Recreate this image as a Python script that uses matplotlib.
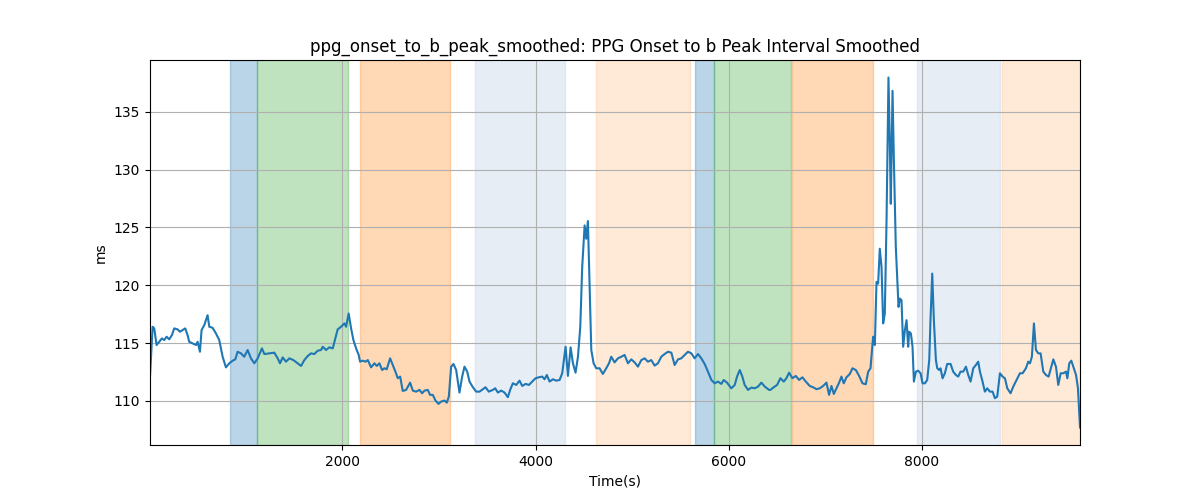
import matplotlib
matplotlib.use("Agg")
import matplotlib.pyplot as plt

# values
time_s = [8, 35, 52, 76, 104, 131, 155, 180, 207, 235, 259, 294, 318, 345, 373, 397, 414, 449, 484, 501,
          525, 542, 570, 604, 622, 656, 691, 725, 760, 794, 829, 864, 891, 915, 950, 984, 1019, 1053, 1088, 1123,
          1167, 1192, 1243, 1295, 1330, 1354, 1382, 1416, 1451, 1492, 1537, 1572, 1606, 1641, 1675, 1710, 1744, 1779, 1796, 1831,
          1865, 1900, 1927, 1951, 1986, 2021, 2038, 2065, 2090, 2114, 2142, 2169, 2183, 2211, 2238, 2263, 2297, 2332, 2356, 2383,
          2411, 2435, 2459, 2494, 2522, 2549, 2573, 2598, 2625, 2660, 2701, 2729, 2763, 2798, 2826, 2850, 2884, 2908, 2936, 2964,
          2995, 3022, 3057, 3081, 3102, 3126, 3150, 3178, 3212, 3240, 3264, 3292, 3316, 3351, 3385, 3420, 3454, 3482, 3516, 3558,
          3582, 3610, 3644, 3679, 3713, 3737, 3765, 3800, 3834, 3862, 3896, 3931, 3965, 4000, 4034, 4069, 4093, 4117, 4145, 4180,
          4214, 4249, 4276, 4311, 4335, 4363, 4387, 4414, 4439, 4463, 4483, 4508, 4525, 4542, 4559, 4577, 4601, 4628, 4663, 4697,
          4732, 4760, 4784, 4818, 4853, 4888, 4922, 4957, 4991, 5026, 5060, 5095, 5129, 5164, 5198, 5233, 5267, 5302, 5336, 5371,
          5406, 5440, 5475, 5509, 5544, 5578, 5613, 5647, 5682, 5716, 5751, 5785, 5820, 5855, 5889, 5924, 5948, 5982, 6027, 6062,
          6086, 6114, 6141, 6165, 6200, 6234, 6269, 6304, 6338, 6373, 6418, 6431, 6466, 6501, 6535, 6570, 6597, 6625, 6659, 6694,
          6729, 6763, 6798, 6839, 6874, 6908, 6943, 6977, 7012, 7039, 7064, 7088, 7115, 7143, 7167, 7191, 7219, 7254, 7281, 7316,
          7350, 7385, 7419, 7444, 7468, 7495, 7513, 7530, 7547, 7564, 7582, 7599, 7616, 7634, 7654, 7668, 7678, 7696, 7710, 7730,
          7744, 7758, 7772, 7789, 7806, 7824, 7841, 7858, 7868, 7886, 7903, 7917, 7938, 7962, 7986, 8007, 8031, 8055, 8076, 8089,
          8107, 8124, 8145, 8159, 8179, 8193, 8214, 8238, 8262, 8297, 8324, 8352, 8376, 8400, 8428, 8456, 8480, 8504, 8532, 8559,
          8583, 8601, 8628, 8652, 8677, 8704, 8732, 8756, 8780, 8808, 8836, 8860, 8884, 8918, 8946, 8981, 9015, 9043, 9077, 9101,
          9119, 9139, 9160, 9181, 9205, 9229, 9257, 9285, 9312, 9340, 9361, 9388, 9412, 9437, 9464, 9492, 9506, 9526, 9547, 9568,
          9596, 9616, 9637]

onset_b_ms = [112.10, 116.41, 116.27, 114.83, 115.11, 115.40, 115.26, 115.55, 115.32, 115.69, 116.27, 116.18, 115.98, 116.12, 116.27, 115.69, 115.11, 114.97, 114.83, 115.11,
              114.25, 116.12, 116.55, 117.41, 116.41, 116.32, 115.83, 115.26, 113.82, 112.90, 113.25, 113.48, 113.59, 114.25, 114.11, 113.82, 114.40, 113.68, 113.25, 113.68,
              114.54, 114.05, 114.11, 114.17, 113.68, 113.25, 113.76, 113.39, 113.68, 113.53, 113.25, 113.02, 113.53, 113.88, 114.11, 114.05, 114.34, 114.40, 114.68, 114.40,
              114.63, 114.54, 115.40, 116.18, 116.41, 116.70, 116.41, 117.56, 116.27, 115.26, 114.54, 113.97, 113.39, 113.48, 113.39, 113.53, 112.90, 113.25, 113.02, 113.25,
              112.67, 112.82, 112.73, 113.68, 113.10, 112.53, 111.96, 112.10, 110.86, 110.95, 111.58, 110.89, 110.80, 110.95, 110.66, 110.89, 110.95, 110.52, 110.52, 110.03,
              109.74, 109.94, 110.03, 109.85, 110.37, 112.96, 113.19, 112.67, 110.72, 112.10, 112.96, 112.53, 111.67, 111.18, 110.80, 110.80, 111.01, 111.18, 110.80, 110.95,
              111.09, 110.72, 110.89, 110.72, 110.32, 110.95, 111.52, 111.38, 111.75, 111.29, 111.47, 111.38, 111.67, 111.96, 112.04, 112.10, 111.87, 112.24, 111.67, 111.87,
              111.75, 111.81, 112.39, 114.68, 112.16, 114.63, 113.25, 112.44, 113.82, 116.41, 121.58, 125.17, 124.02, 125.55, 120.14, 114.40, 113.25, 112.82, 112.82, 112.33,
              112.82, 113.25, 113.82, 113.33, 113.68, 113.82, 113.97, 113.25, 113.59, 113.33, 112.96, 113.53, 113.68, 113.39, 113.53, 113.05, 113.25, 113.82, 114.05, 114.25,
              114.17, 113.10, 113.59, 113.68, 113.97, 114.25, 114.11, 113.68, 114.05, 113.68, 113.19, 112.53, 111.81, 111.52, 111.67, 111.47, 111.81, 111.58, 111.09, 111.38,
              112.10, 112.67, 112.10, 111.38, 110.95, 111.15, 111.09, 111.24, 111.58, 111.24, 110.95, 110.95, 111.18, 111.38, 111.96, 111.67, 111.96, 112.44, 111.96, 112.16,
              111.81, 112.04, 111.67, 111.29, 111.18, 111.01, 111.09, 111.29, 111.58, 110.52, 111.29, 110.60, 111.09, 111.58, 112.10, 111.52, 112.04, 112.33, 112.82, 112.67,
              112.16, 111.52, 111.44, 112.53, 112.82, 115.55, 114.83, 120.29, 120.14, 123.16, 121.58, 116.70, 117.56, 125.60, 137.96, 132.21, 127.04, 136.81, 130.78, 123.30,
              120.72, 118.13, 118.85, 118.71, 114.68, 116.12, 116.98, 114.68, 115.98, 115.83, 114.68, 111.67, 112.53, 112.61, 112.39, 111.52, 111.52, 111.81, 113.53, 116.98,
              121.01, 116.98, 113.53, 112.82, 112.67, 112.82, 111.95, 112.39, 113.19, 113.19, 112.53, 112.24, 112.10, 112.53, 112.53, 112.96, 112.24, 111.67, 112.82, 113.10,
              113.39, 112.53, 111.67, 110.80, 111.09, 110.80, 110.80, 110.23, 110.37, 112.39, 112.10, 111.95, 111.09, 110.66, 111.23, 111.81, 112.39, 112.39, 112.82, 113.39,
              113.25, 113.82, 116.70, 114.40, 114.11, 114.11, 112.53, 112.24, 112.10, 112.96, 113.59, 112.96, 111.38, 112.39, 112.39, 112.53, 111.95, 113.25, 113.48, 112.96,
              112.24, 111.09, 107.70]

span_start = [839, 1115, 2187, 3378, 4622, 5648, 5847, 6660, 7946, 8827]
span_end = [1115, 2062, 3117, 4309, 5596, 5847, 6640, 7495, 8808, 9637]
span_color = ['C0', 'C2', 'C1', 'lightsteelblue', 'C1', 'C0', 'C2', 'C1', 'lightsteelblue', 'C1']
span_alpha = [0.3, 0.3, 0.3, 0.3, 0.16, 0.3, 0.3, 0.3, 0.3, 0.16]

fig, ax = plt.subplots(figsize=(12, 5), dpi=100)
for s, e, c, a in zip(span_start, span_end, span_color, span_alpha):
    ax.axvspan(s, e, color=c, alpha=a)
ax.plot(time_s, onset_b_ms, color='C0')
ax.set_xlim(time_s[0], time_s[-1])
ax.grid(True)
ax.set_title('ppg_onset_to_b_peak_smoothed: PPG Onset to b Peak Interval Smoothed')
ax.set_xlabel('Time(s)')
ax.set_ylabel('ms')
fig.savefig('out.png')
